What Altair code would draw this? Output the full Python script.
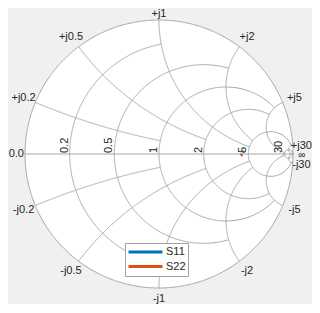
import numpy as np
import pandas as pd
import altair as alt

# ---- chart values ----
R_VALUES = [0.2, 0.5, 1, 2, 5, 30]          # constant-resistance circles
R_STOPS = [1, 2, 5, 5, 30, np.inf]          # reactance where each circle stops
X_VALUES = [0.2, 0.5, 1, 2, 5, 30]          # constant-reactance arcs
X_STOPS = [1, 2, 5, 5, 30, np.inf]          # resistance where each arc stops
R_LABELS = ["0.2", "0.5", "1", "2", "5", "30"]
X_POS_LABELS = ["+j0.2", "+j0.5", "+j1", "+j2", "+j5", "+j30"]
X_NEG_LABELS = ["-j0.2", "-j0.5", "-j1", "-j2", "-j5", "-j30"]

SERIES = ["S11", "S22"]
S11_RE = [0.624, 0.634]
S11_IM = [0.012, 0.022]
S22_RE = [0.611, 0.621]
S22_IM = [-0.012, -0.002]
COLORS = ["#0072BD", "#D95319"]

FONT = "Liberation Sans"
TEXT_COLOR = "#262626"
GRID_COLOR = "#a6a6a6"

# ---- geometry of the view (plot-area pixels) ----
W, H = 304, 296
CX, CY, RAD = 151.0, 146.0, 134.0
X_DOM = [-CX / RAD, (W - CX) / RAD]
Y_DOM = [-(H - CY) / RAD, CY / RAD]
LABEL_R = 1.095


def gamma(z):
    return (z - 1) / (z + 1)


rows = []
cid = [0]


def add_curve(zs):
    g = gamma(np.asarray(zs, dtype=complex))
    for k, (a, b) in enumerate(zip(g.real, g.imag)):
        rows.append({"id": cid[0], "k": k, "gx": a, "gy": b})
    cid[0] += 1


# outer circle (r = 0)
phi = np.linspace(-np.pi / 2, np.pi / 2, 721)
add_curve(1j * np.tan(phi))
# real axis
add_curve([0, 1e12])
# resistance circles
for r, stop in zip(R_VALUES, R_STOPS):
    pm = np.arctan(stop)
    phi = np.linspace(-pm, pm, 500)
    add_curve(r + 1j * np.tan(phi))
# reactance arcs
for x, stop in zip(X_VALUES, X_STOPS):
    psi = np.linspace(0, np.arctan(stop), 400)
    rr = np.tan(psi)
    add_curve(rr + 1j * x)
    add_curve(rr - 1j * x)
grid_df = pd.DataFrame(rows)

# white disk
t = np.linspace(0, np.pi, 721)
disk_df = pd.DataFrame({"gx": np.cos(t), "top": np.sin(t), "bot": -np.sin(t)})

# resistance labels
rlab_df = pd.DataFrame({
    "gx": [(r - 1) / (r + 1) for r in R_VALUES],
    "gy": [0.0] * len(R_VALUES),
    "label": R_LABELS,
})

# reactance labels (placed just outside the rim)
xl = []
for x, lp, ln in zip(X_VALUES, X_POS_LABELS, X_NEG_LABELS):
    g = gamma(1j * x)
    for lab, sgn in ((lp, 1), (ln, -1)):
        side = "none"
        if x == 1:
            side = "top" if sgn > 0 else "bottom"
        if x == 30:
            side = "right"
        xl.append({"gx": LABEL_R * g.real, "gy": sgn * LABEL_R * g.imag,
                   "label": lab, "side": side})
xl.append({"gx": -LABEL_R, "gy": 0.0, "label": "0.0", "side": "left"})
xl.append({"gx": LABEL_R, "gy": 0.0, "label": "∞", "side": "inf"})
xlab_df = pd.DataFrame(xl)

# data
data_df = pd.DataFrame({
    "series": ["S11"] * len(S11_RE) + ["S22"] * len(S22_RE),
    "k": list(range(len(S11_RE))) + list(range(len(S22_RE))),
    "gx": S11_RE + S22_RE,
    "gy": S11_IM + S22_IM,
})

xs = alt.Scale(domain=X_DOM, nice=False, zero=False)
ys = alt.Scale(domain=Y_DOM, nice=False, zero=False)
X = alt.X("gx:Q", scale=xs, axis=None)
Y = alt.Y("gy:Q", scale=ys, axis=None)

disk = alt.Chart(disk_df).mark_area(color="white").encode(
    x=X, y=alt.Y("top:Q", scale=ys, axis=None), y2="bot:Q")

grid = alt.Chart(grid_df).mark_line(color=GRID_COLOR, strokeWidth=1).encode(
    x=X, y=Y, detail="id:N", order="k:Q")

rlab = alt.Chart(rlab_df).mark_text(
    angle=270, align="left", baseline="bottom", dx=1,
    font=FONT, fontSize=11, color=TEXT_COLOR).encode(x=X, y=Y, text="label:N")


def xlayer(side, dx=0, dy=0, size=11):
    return alt.Chart(xlab_df).transform_filter(
        alt.datum.side == side).mark_text(
        align="center", baseline="middle", dx=dx, dy=dy,
        font=FONT, fontSize=size, color=TEXT_COLOR).encode(x=X, y=Y, text="label:N")


xlabs = [xlayer("none"), xlayer("top", dy=7), xlayer("bottom", dy=-2),
         xlayer("left", dx=4), xlayer("right", dx=-4, dy=1.5),
         xlayer("inf", dx=-4, dy=1, size=10)]

line = alt.Chart(data_df).mark_line(strokeWidth=3).encode(
    x=X, y=Y, order="k:Q",
    color=alt.Color("series:N", scale=alt.Scale(domain=SERIES, range=COLORS),
                    legend=alt.Legend(
                        title=None, orient="none", legendX=117, legendY=235,
                        symbolType="stroke", symbolSize=1156, symbolStrokeWidth=3,
                        clipHeight=14, labelFont=FONT, labelFontSize=11,
                        labelColor=TEXT_COLOR, padding=2, rowPadding=0.5,
                        labelOffset=2, strokeColor="#a0a0a0", fillColor="white")))

chart = alt.layer(disk, grid, rlab, *xlabs, line).properties(
    width=W, height=H, autosize=alt.AutoSizeParams(type="none"), padding=0,
    background="#f0f0f0").configure_view(stroke=None)

chart.save("out.html", embed_options={"renderer": "svg", "actions": False})
